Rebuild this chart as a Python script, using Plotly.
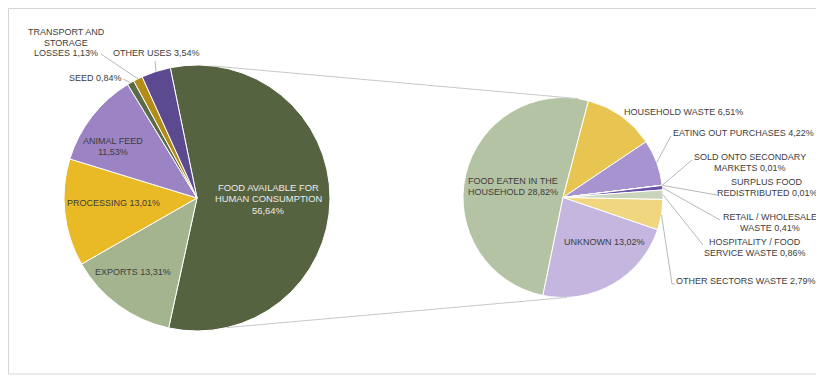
import math
import plotly.graph_objects as go

# page window is 824x376; the page body adds an 8px margin, so the figure is 816x368
PAGE_W, PAGE_H = 824, 376
OFF = 8
W, H = PAGE_W - OFF, PAGE_H - OFF

# ---------------- data ----------------
left_labels = ["FOOD AVAILABLE FOR HUMAN CONSUMPTION", "EXPORTS", "PROCESSING",
               "ANIMAL FEED", "SEED", "TRANSPORT AND STORAGE LOSSES", "OTHER USES"]
left_values = [56.64, 13.31, 13.01, 11.53, 0.84, 1.13, 3.54]

right_labels = ["FOOD EATEN IN THE HOUSEHOLD", "HOUSEHOLD WASTE", "EATING OUT PURCHASES",
                "SOLD ONTO SECONDARY MARKETS", "SURPLUS FOOD REDISTRIBUTED",
                "RETAIL / WHOLESALE WASTE", "HOSPITALITY / FOOD SERVICE WASTE",
                "OTHER SECTORS WASTE", "UNKNOWN"]
right_values = [28.82, 6.51, 4.22, 0.01, 0.01, 0.41, 0.86, 2.79, 13.02]

# ---------------- styles ----------------
left_colors = ["#566340", "#a4b48e", "#e9b926", "#9b83c4", "#5b6b47", "#b38b16", "#5c4a90"]
right_colors = ["#b4c3a3", "#e8c451", "#a793cf", "#4f6a3a", "#8a7bb8", "#6a52a6",
                "#c8d4bb", "#f0d77f", "#c4b6df"]

LEFT = dict(cx=197, cy=198, r=133, rot=-11.6)
RIGHT = dict(cx=563, cy=197.5, r=100, rot=191.6)

FONT = "Liberation Sans, Arial, sans-serif"
FS = 9
TXT = "#3d3d3d"
LEADER = "#a6a6a6"


def X(px):
    return (px - OFF) / W


def Y(py):
    return 1 - (py - OFF) / H


def domain(g):
    return dict(x=[X(g["cx"] - g["r"]), X(g["cx"] + g["r"])],
                y=[Y(g["cy"] + g["r"]), Y(g["cy"] - g["r"])])


def pt(g, ang, frac=1.0):
    a = math.radians(ang)
    return (g["cx"] + g["r"] * frac * math.sin(a), g["cy"] - g["r"] * frac * math.cos(a))


def mid_angle(g, values, i):
    tot = sum(values)
    return g["rot"] + (sum(values[:i]) + values[i] / 2) / tot * 360


def pct(v):
    return f"{v:.2f}".replace(".", ",") + "%"


fig = go.Figure()
fig.add_trace(go.Pie(labels=left_labels, values=left_values, sort=False,
                     direction="clockwise", rotation=LEFT["rot"], domain=domain(LEFT),
                     marker=dict(colors=left_colors, line=dict(color="white", width=1)),
                     textinfo="none", hoverinfo="label+percent", showlegend=False))
fig.add_trace(go.Pie(labels=right_labels, values=right_values, sort=False,
                     direction="clockwise", rotation=RIGHT["rot"], domain=domain(RIGHT),
                     marker=dict(colors=right_colors, line=dict(color="white", width=1)),
                     textinfo="none", hoverinfo="label+value", showlegend=False))

# ---------------- labels: (lines, center x, first line y, color, line height, size) ----------------
lv = dict(zip(left_labels, left_values))
rv = dict(zip(right_labels, right_values))
labels = [
    (["TRANSPORT AND", "STORAGE", "LOSSES " + pct(lv["TRANSPORT AND STORAGE LOSSES"])], 66, 32, TXT, 10.5, FS),
    (["OTHER USES " + pct(lv["OTHER USES"])], 156.5, 53, TXT, 10.5, FS),
    (["SEED " + pct(lv["SEED"])], 95, 78, TXT, 10.5, FS),
    (["ANIMAL FEED", pct(lv["ANIMAL FEED"])], 113, 141, TXT, 11, FS),
    (["PROCESSING " + pct(lv["PROCESSING"])], 113.5, 203, TXT, 11, FS),
    (["EXPORTS " + pct(lv["EXPORTS"])], 133, 272, TXT, 11, FS),
    (["FOOD AVAILABLE FOR", "HUMAN CONSUMPTION", pct(lv["FOOD AVAILABLE FOR HUMAN CONSUMPTION"])],
     268, 187, "#ececec", 11.5, 9.4),
    (["HOUSEHOLD WASTE " + pct(rv["HOUSEHOLD WASTE"])], 683, 112, TXT, 11, FS),
    (["EATING OUT PURCHASES " + pct(rv["EATING OUT PURCHASES"])], 743, 133, TXT, 11, FS),
    (["SOLD ONTO SECONDARY", "MARKETS " + pct(rv["SOLD ONTO SECONDARY MARKETS"])], 750, 157, TXT, 11, FS),
    (["SURPLUS FOOD", "REDISTRIBUTED " + pct(rv["SURPLUS FOOD REDISTRIBUTED"])], 767, 182, TXT, 11, FS),
    (["RETAIL / WHOLESALE", "WASTE " + pct(rv["RETAIL / WHOLESALE WASTE"])], 770, 217, TXT, 11, FS),
    (["HOSPITALITY / FOOD", "SERVICE WASTE " + pct(rv["HOSPITALITY / FOOD SERVICE WASTE"])], 755, 242, TXT, 11, FS),
    (["OTHER SECTORS WASTE " + pct(rv["OTHER SECTORS WASTE"])], 745.5, 281, TXT, 11, FS),
    (["FOOD EATEN IN THE", "HOUSEHOLD " + pct(rv["FOOD EATEN IN THE HOUSEHOLD"])], 513, 181, TXT, 11, FS),
    (["UNKNOWN " + pct(rv["UNKNOWN"])], 604, 242, TXT, 11, FS),
]

annotations = []
for lines, cx, y0, col, lh, size in labels:
    for k, line_text in enumerate(lines):
        annotations.append(dict(text=line_text, x=X(cx), y=Y(y0 + k * lh), xref="paper", yref="paper",
                                xanchor="center", yanchor="middle", showarrow=False,
                                font=dict(family=FONT, size=size, color=col)))

shapes = []


def line(p0, p1, color=LEADER, width=0.8):
    shapes.append(dict(type="line", xref="paper", yref="paper",
                       x0=X(p0[0]), y0=Y(p0[1]), x1=X(p1[0]), y1=Y(p1[1]),
                       line=dict(color=color, width=width)))


# leader lines: (text-side point, slice index)
li = {name: i for i, name in enumerate(left_labels)}
ri = {name: i for i, name in enumerate(right_labels)}
left_leaders = [((123, 79), li["SEED"]),
                ((101, 54), li["TRANSPORT AND STORAGE LOSSES"]),
                ((155, 61), li["OTHER USES"])]
for p, i in left_leaders:
    line(p, pt(LEFT, mid_angle(LEFT, left_values, i)))

right_leaders = [((671, 136), ri["EATING OUT PURCHASES"]),
                 ((692, 160), ri["SOLD ONTO SECONDARY MARKETS"]),
                 ((717, 195), ri["SURPLUS FOOD REDISTRIBUTED"]),
                 ((720, 220), ri["RETAIL / WHOLESALE WASTE"]),
                 ((703, 245), ri["HOSPITALITY / FOOD SERVICE WASTE"]),
                 ((672, 284), ri["OTHER SECTORS WASTE"])]
for p, i in right_leaders:
    line(p, pt(RIGHT, mid_angle(RIGHT, right_values, i)))
line((672, 284), (675, 284))

# connectors between the two pies
line(pt(LEFT, 7), pt(RIGHT, 8.6), color="#c8c8c8", width=1)
line(pt(LEFT, 167), pt(RIGHT, 177.7), color="#c8c8c8", width=1)

# chart border
shapes.append(dict(type="rect", xref="paper", yref="paper", x0=X(8.5), y0=Y(374), x1=X(821.5), y1=Y(8.5),
                   line=dict(color="#d6d6d6", width=1), fillcolor="rgba(0,0,0,0)", layer="below"))

fig.update_layout(width=W, height=H, margin=dict(l=0, r=0, t=0, b=0),
                  paper_bgcolor="white", plot_bgcolor="white",
                  annotations=annotations, shapes=shapes,
                  font=dict(family=FONT, size=FS, color=TXT))

fig.write_html("out.html")
